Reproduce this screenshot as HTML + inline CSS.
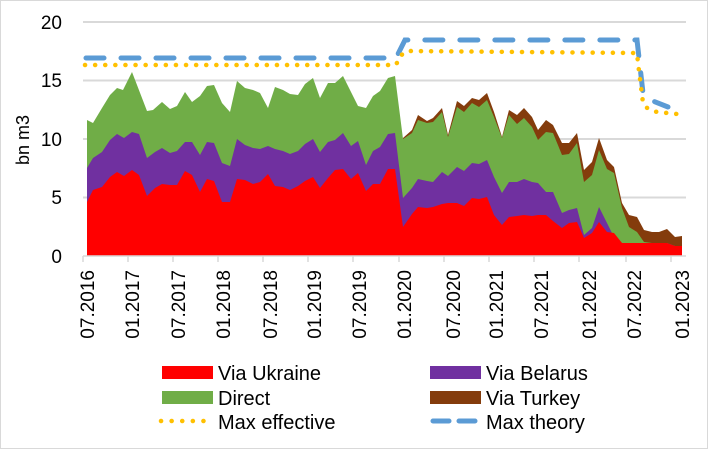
<!DOCTYPE html>
<html><head><meta charset="utf-8"><style>
body{margin:0;background:#fff;}
svg text{font-family:"Liberation Sans",sans-serif;fill:#000;}
</style></head><body>
<svg width="708" height="449" viewBox="0 0 708 449" xmlns="http://www.w3.org/2000/svg">
<rect x="0.5" y="0.5" width="707" height="448" fill="#fff" stroke="#d9d9d9"/>
<g stroke="#d9d9d9" stroke-width="2">
<line x1="83" y1="22" x2="686" y2="22"/>
<line x1="83" y1="80.5" x2="686" y2="80.5"/>
<line x1="83" y1="139" x2="686" y2="139"/>
<line x1="83" y1="197.5" x2="686" y2="197.5"/>
</g>
<polygon fill="#843c0c" points="403,138 412,130 418,115 427,121 433,118 442,108 448,135 457,101 464,106 472,98 479,100 487,93 494,112 502,137 509,110 517,115 524,108 532,117 538,130 546,120 553,125 562,143 569,143 577,133 584,170 592,162 599,138 607,160 614,167 622,203 629,215 637,217 644,230 652,232 659,232 667,229 675,237 682,236 682,256 403,256"/>
<polygon fill="#70ad47" points="87,120 93,123 102,108 110,95 117,88 123,90 132,72 147,111 153,110 162,102 170,109 177,106 185,92 192,102 200,96 207,86 214,85 222,103 230,112 237,81 245,88 253,90 260,93 268,108 275,87 283,90 290,94 298,95 305,84 313,78 320,98 328,83 335,83 343,76 351,92 358,106 366,108 373,96 380,91 388,78 395,76 403,139 412,133 418,120 427,123 433,122 442,112 448,137 457,107 464,112 472,103 479,107 487,100 494,117 502,138 509,115 517,124 524,118 532,127 538,140 546,132 553,133 562,155 569,154 577,143 584,182 592,175 599,150 607,169 614,173 622,208 629,227 637,232 644,242 652,243 667,243 675,246 682,246 682,256 87,256"/>
<polygon fill="#7030a0" points="87,168 93,158 102,152 110,140 117,134 124,138 132,132 139,134 147,158 155,152 162,148 170,153 177,151 185,142 192,142 200,155 207,142 214,143 222,163 230,166 237,139 245,145 253,148 260,149 268,146 275,149 283,151 290,154 298,151 305,144 313,139 320,152 328,142 335,140 343,133 351,146 358,141 366,165 373,151 380,147 388,134 395,133 403,198 412,188 418,179 427,181 433,182 442,172 448,176 457,167 464,171 472,163 479,164 487,160 494,177 502,193 509,182 517,182 524,179 532,182 538,183 546,192 553,192 562,213 569,210 577,208 584,235 592,228 599,207 607,223 614,237 622,243 637,243 667,243 675,246 682,246 682,256 87,256"/>
<polygon fill="#ff0000" points="87,202 93,190 102,187 110,177 117,172 124,176 132,170 139,175 147,196 155,188 162,184 170,185 177,185 185,171 192,175 200,192 207,179 214,181 222,202 230,202 237,179 245,180 253,184 260,182 268,174 275,186 283,187 290,190 298,186 305,181 313,177 320,188 328,178 335,170 343,169 351,179 358,173 366,191 373,184 380,184 388,169 395,169 403,227 412,214 418,207 427,208 433,207 442,204 448,203 457,203 464,206 472,198 479,199 487,197 494,215 502,225 509,217 517,216 524,215 532,216 538,215 546,215 553,221 562,228 569,223 577,222 584,238 592,233 599,222 607,232 614,233 622,243 637,243 667,243 675,246 682,246 682,256 87,256"/>
<polyline fill="none" stroke="#5b9bd5" stroke-width="5" stroke-dasharray="18,17" stroke-linecap="round" points="86,58 396,58 405,40 637,40 643,93 653,101 668,107"/>
<polyline fill="none" stroke="#ffc000" stroke-width="4.5" stroke-dasharray="0.1,10" stroke-linecap="round" points="85,65 396,65 400,56 407,51 637,53 638,63 643,103 648,109 657,112 677,114"/>
<g stroke="#d9d9d9" stroke-width="1.5">
<line x1="83" y1="256" x2="686" y2="256"/>
<line x1="83" y1="256" x2="83" y2="262"/><line x1="128" y1="256" x2="128" y2="262"/><line x1="173" y1="256" x2="173" y2="262"/><line x1="218" y1="256" x2="218" y2="262"/><line x1="263" y1="256" x2="263" y2="262"/><line x1="308" y1="256" x2="308" y2="262"/><line x1="353" y1="256" x2="353" y2="262"/><line x1="399" y1="256" x2="399" y2="262"/><line x1="444" y1="256" x2="444" y2="262"/><line x1="489" y1="256" x2="489" y2="262"/><line x1="534" y1="256" x2="534" y2="262"/><line x1="579" y1="256" x2="579" y2="262"/><line x1="626" y1="256" x2="626" y2="262"/><line x1="671" y1="256" x2="671" y2="262"/>
</g>
<g font-size="19" text-anchor="end">
<text x="62" y="29">20</text><text x="62" y="87">15</text><text x="62" y="146">10</text><text x="62" y="204">5</text><text x="62" y="263">0</text>
</g>
<text font-size="18" text-anchor="middle" transform="translate(29,140) rotate(-90)">bn m3</text>
<g font-size="19" text-anchor="end">
<text transform="translate(94,270) rotate(-90)">07.2016</text>
<text transform="translate(139,270) rotate(-90)">01.2017</text>
<text transform="translate(185,270) rotate(-90)">07.2017</text>
<text transform="translate(230,270) rotate(-90)">01.2018</text>
<text transform="translate(277,270) rotate(-90)">07.2018</text>
<text transform="translate(321,270) rotate(-90)">01.2019</text>
<text transform="translate(366,270) rotate(-90)">07.2019</text>
<text transform="translate(411,270) rotate(-90)">01.2020</text>
<text transform="translate(460,270) rotate(-90)">07.2020</text>
<text transform="translate(503,270) rotate(-90)">01.2021</text>
<text transform="translate(548,270) rotate(-90)">07.2021</text>
<text transform="translate(596,270) rotate(-90)">01.2022</text>
<text transform="translate(641,270) rotate(-90)">07.2022</text>
<text transform="translate(689,270) rotate(-90)">01.2023</text>
</g>
<rect x="162" y="366" width="51" height="13" fill="#ff0000"/>
<rect x="430" y="366" width="51" height="13" fill="#7030a0"/>
<rect x="162" y="391" width="51" height="13" fill="#70ad47"/>
<rect x="430" y="391" width="51" height="13" fill="#843c0c"/>
<line x1="161" y1="421" x2="213" y2="421" stroke="#ffc000" stroke-width="4.5" stroke-dasharray="0.1,10.5" stroke-linecap="round"/>
<line x1="433" y1="421" x2="480" y2="421" stroke="#5b9bd5" stroke-width="5" stroke-dasharray="16,10" stroke-linecap="round"/>
<g font-size="20">
<text x="218" y="380">Via Ukraine</text>
<text x="486" y="380">Via Belarus</text>
<text x="218" y="405">Direct</text>
<text x="486" y="405">Via Turkey</text>
<text x="218" y="429">Max effective</text>
<text x="486" y="429">Max theory</text>
</g>
</svg>
</body></html>
